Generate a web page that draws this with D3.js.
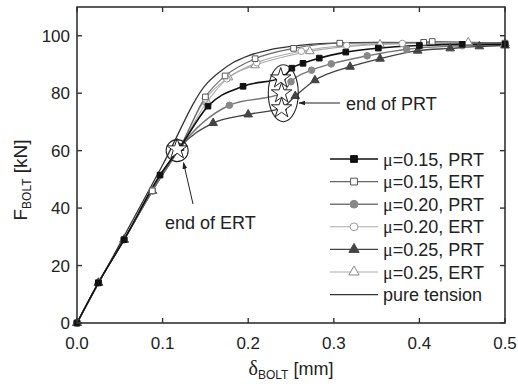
<!DOCTYPE html>
<html>
<head>
<meta charset="utf-8">
<script src="https://cdn.jsdelivr.net/npm/d3@7"></script>
<style>
  body { margin: 0; background: #fff; }
  text { font-family: "Liberation Sans", Arial, sans-serif; fill: #222; }
</style>
</head>
<body>
<script>
'use strict';

// shared elastic part of every bolt curve
const linearPart = [[0, 0], [0.025, 14], [0.055, 29], [0.088, 46], [0.12, 61]];

// mu = 0.15
const prt15 = [[0, 0], [0.025, 14], [0.055, 29], [0.097, 51.5], [0.12, 61], [0.153, 75.5], [0.194, 82.4], [0.24, 85.5],
  [0.251, 88.7], [0.264, 90.4], [0.283, 92.2], [0.314, 94.3], [0.352, 95.7], [0.4, 96.6], [0.45, 97], [0.5, 97]];
const ert15 = linearPart.concat([[0.15, 78.7], [0.173, 86], [0.208, 92], [0.253, 95.6], [0.307, 97.4],
  [0.405, 97.7], [0.415, 98], [0.5, 97.4]]);
// mu = 0.20
const prt20 = linearPart.concat([[0.178, 75.8], [0.24, 80], [0.25, 84], [0.274, 88], [0.297, 90.2],
  [0.339, 93], [0.385, 95.3], [0.45, 96.5], [0.5, 96.9]]);
const ert20 = linearPart.concat([[0.15, 78], [0.175, 85], [0.21, 90.6], [0.262, 94.6], [0.315, 96.6],
  [0.38, 97.3], [0.5, 97.3]]);
// mu = 0.25
const prt25 = linearPart.concat([[0.159, 69.6], [0.2, 72.6], [0.24, 75], [0.255, 79], [0.278, 84.5],
  [0.319, 89.2], [0.354, 92], [0.398, 94.8], [0.436, 95.6], [0.47, 96.3], [0.5, 96.6]]);
const ert25 = linearPart.concat([[0.152, 77], [0.177, 85.5], [0.208, 89.7], [0.272, 94.6], [0.354, 97],
  [0.457, 97.7], [0.5, 97.3]]);
// pure tension
const pureTension = [[0, 0], [0.1, 55], [0.152, 83.5], [0.167, 87.5], [0.182, 90.6], [0.2, 93], [0.225, 95.1],
  [0.25, 96.3], [0.3, 97.4], [0.35, 97.7], [0.5, 97.5]];

// end of PRT stars and end of ERT star
const prtEnds = [[0.238, 85.2], [0.239, 80], [0.239, 74.8]];
const ertEnd = [[0.117, 60.5]];

const xTicks = [0, 0.1, 0.2, 0.3, 0.4, 0.5];
const yTicks = [0, 20, 40, 60, 80, 100];

const series = [
  { name: 'μ=0.15, PRT', pts: prt15, stroke: '#111', width: 1.6, sym: d3.symbolSquare, fill: '#111', mstroke: '#111', size: 32 },
  { name: 'μ=0.15, ERT', pts: ert15, stroke: '#666', width: 1.1, sym: d3.symbolSquare, fill: '#fff', mstroke: '#555', size: 32 },
  { name: 'μ=0.20, PRT', pts: prt20, stroke: '#777', width: 1.4, sym: d3.symbolCircle, fill: '#888', mstroke: '#888', size: 34 },
  { name: 'μ=0.20, ERT', pts: ert20, stroke: '#aaa', width: 1.1, sym: d3.symbolCircle, fill: '#fff', mstroke: '#999', size: 34 },
  { name: 'μ=0.25, PRT', pts: prt25, stroke: '#444', width: 1.4, sym: d3.symbolTriangle, fill: '#444', mstroke: '#444', size: 32 },
  { name: 'μ=0.25, ERT', pts: ert25, stroke: '#aaa', width: 1.1, sym: d3.symbolTriangle, fill: '#fff', mstroke: '#888', size: 32 },
  { name: 'pure tension', pts: pureTension, stroke: '#333', width: 1.3, sym: null }
];

const svg = d3.select('body').append('svg')
  .attr('width', 518)
  .attr('height', 386);

const x = d3.scaleLinear().domain([0, 0.5]).range([77, 505]);
const y = d3.scaleLinear().domain([0, 110]).range([323, 7]);

const line = d3.line()
  .x(d => x(d[0]))
  .y(d => y(d[1]))
  .curve(d3.curveMonotoneX);

const plot = svg.append('g');

// draw from back (pure tension) to front
series.slice().reverse().forEach(s => {
  plot.append('path')
    .attr('d', line(s.pts))
    .attr('fill', 'none')
    .attr('stroke', s.stroke)
    .attr('stroke-width', s.width);
});
series.slice().reverse().forEach(s => {
  if (!s.sym) return;
  plot.selectAll(null)
    .data(s.pts)
    .enter()
    .append('path')
      .attr('d', d3.symbol().type(s.sym).size(s.size))
      .attr('transform', d => `translate(${x(d[0])},${y(d[1])})`)
      .attr('fill', s.fill)
      .attr('stroke', s.mstroke)
      .attr('stroke-width', 1);
});

// stars
plot.selectAll('.star')
  .data(prtEnds.concat(ertEnd))
  .enter()
  .append('path')
    .attr('d', d3.symbol().type(d3.symbolStar).size(130))
    .attr('transform', d => `translate(${x(d[0])},${y(d[1])})`)
    .attr('fill', '#fff')
    .attr('stroke', '#222')
    .attr('stroke-width', 1);

// annotation ellipses
svg.append('ellipse')
  .attr('cx', x(0.117)).attr('cy', y(60))
  .attr('rx', 11).attr('ry', 11)
  .attr('fill', 'none').attr('stroke', '#222').attr('stroke-width', 1.1);
svg.append('ellipse')
  .attr('cx', x(0.241)).attr('cy', y(80))
  .attr('rx', 15).attr('ry', 28.5)
  .attr('fill', 'none').attr('stroke', '#222').attr('stroke-width', 1.1);

// arrow heads
svg.append('defs').append('marker')
  .attr('id', 'arrow')
  .attr('viewBox', '0 0 10 10')
  .attr('refX', 9).attr('refY', 5)
  .attr('markerWidth', 7).attr('markerHeight', 7)
  .attr('orient', 'auto')
  .append('path')
    .attr('d', 'M0,1.5L10,5L0,8.5Z')
    .attr('fill', '#222');

svg.append('line')
  .attr('x1', 193).attr('y1', 204)
  .attr('x2', 183.5).attr('y2', y(60) + 12)
  .attr('stroke', '#222').attr('stroke-width', 1)
  .attr('marker-end', 'url(#arrow)');
svg.append('line')
  .attr('x1', 340).attr('y1', 103)
  .attr('x2', 299).attr('y2', 103)
  .attr('stroke', '#222').attr('stroke-width', 1)
  .attr('marker-end', 'url(#arrow)');

svg.append('text')
  .attr('x', 165).attr('y', 229)
  .style('font-size', '18px')
  .text('end of ERT');
svg.append('text')
  .attr('x', 346).attr('y', 110)
  .style('font-size', '18px')
  .text('end of PRT');

// frame and inward ticks
const frame = svg.append('g');
frame.append('rect')
  .attr('x', 77).attr('y', 7)
  .attr('width', 428).attr('height', 316)
  .attr('fill', 'none').attr('stroke', '#333').attr('stroke-width', 1.6);

const tickLen = 5;
xTicks.forEach(t => {
  frame.append('line').attr('x1', x(t)).attr('x2', x(t)).attr('y1', 323).attr('y2', 323 - tickLen)
    .attr('stroke', '#333').attr('stroke-width', 1.4);
  frame.append('line').attr('x1', x(t)).attr('x2', x(t)).attr('y1', 7).attr('y2', 7 + tickLen)
    .attr('stroke', '#333').attr('stroke-width', 1.4);
  frame.append('text')
    .attr('x', x(t)).attr('y', 349)
    .attr('text-anchor', 'middle')
    .style('font-size', '17px')
    .text(d3.format('.1f')(t));
});
yTicks.forEach(t => {
  frame.append('line').attr('x1', 77).attr('x2', 77 + tickLen).attr('y1', y(t)).attr('y2', y(t))
    .attr('stroke', '#333').attr('stroke-width', 1.4);
  frame.append('line').attr('x1', 505).attr('x2', 505 - tickLen).attr('y1', y(t)).attr('y2', y(t))
    .attr('stroke', '#333').attr('stroke-width', 1.4);
  frame.append('text')
    .attr('x', 70).attr('y', y(t) + 6)
    .attr('text-anchor', 'end')
    .style('font-size', '17px')
    .text(t);
});

// axis titles
const xt = svg.append('text')
  .attr('x', 291).attr('y', 375)
  .attr('text-anchor', 'middle')
  .style('font-size', '18px');
xt.append('tspan').style('font-family', '"Liberation Serif", serif').style('font-size', '20px').text('δ');
xt.append('tspan').attr('dy', 4).style('font-size', '12px').text('BOLT');
xt.append('tspan').attr('dy', -4).text(' [mm]');

const yt = svg.append('text')
  .attr('transform', 'translate(27, 180) rotate(-90)')
  .attr('text-anchor', 'middle')
  .style('font-size', '19px');
yt.append('tspan').text('F');
yt.append('tspan').attr('dy', 4).style('font-size', '12px').text('BOLT');
yt.append('tspan').attr('dy', -4).text(' [kN]');

// legend
const legend = svg.append('g');
const rowY = d3.range(series.length).map(i => 159 + i * 22.6);
series.forEach((s, i) => {
  const ly = rowY[i];
  legend.append('line')
    .attr('x1', 330).attr('x2', 378).attr('y1', ly).attr('y2', ly)
    .attr('stroke', s.stroke).attr('stroke-width', s.width);
  if (s.sym) {
    legend.append('path')
      .attr('d', d3.symbol().type(s.sym).size(s.size + 14))
      .attr('transform', `translate(354,${ly})`)
      .attr('fill', s.fill)
      .attr('stroke', s.mstroke)
      .attr('stroke-width', 1);
  }
  const t = legend.append('text')
    .attr('x', 383).attr('y', ly + 6.5)
    .style('font-size', '18px');
  if (s.name.startsWith('μ')) {
    t.append('tspan').style('font-family', '"Liberation Serif", serif').text('μ');
    t.append('tspan').text(s.name.slice(1));
  } else {
    t.text(s.name);
  }
});
</script>
</body>
</html>
